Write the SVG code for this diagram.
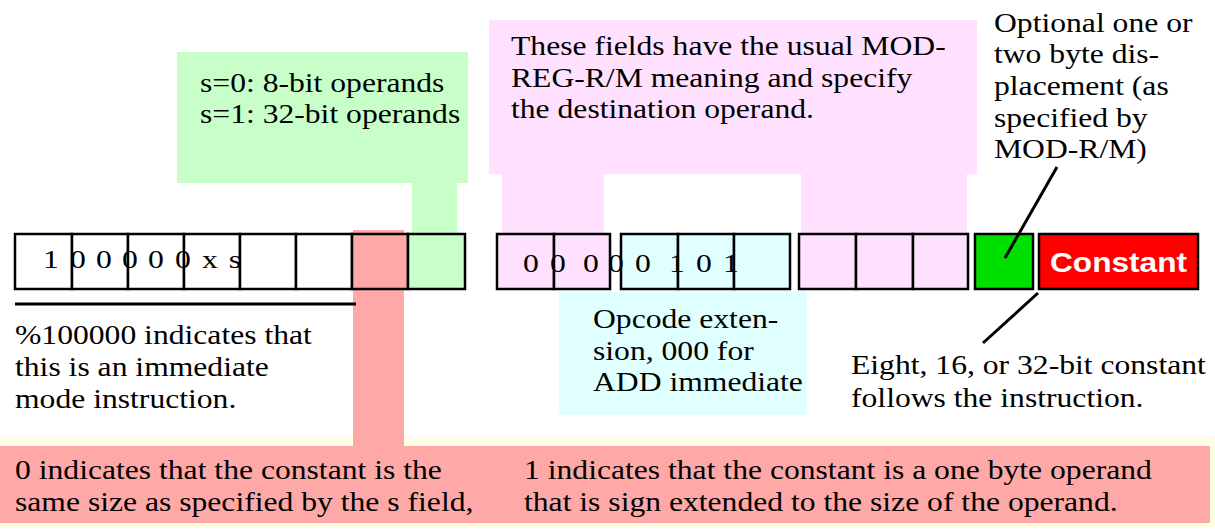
<svg xmlns="http://www.w3.org/2000/svg" width="1215" height="529" viewBox="0 0 1215 529">
<defs>
<style>
.t{font-family:"Liberation Serif","Times New Roman",serif;font-size:28px;fill:#000}
.n{font-family:"Liberation Serif","Times New Roman",serif;font-size:26px;fill:#000;text-anchor:middle}
.c{stroke:#000;stroke-width:2.5}
.w{fill:#fff}
.pk{fill:#FFE0FF}
.cy{fill:#E0FFFF}
.lg{fill:#C8FFC8}
.rd{fill:#FFA8A8}
.ln{stroke:#000;stroke-width:3;fill:none}
</style>
<clipPath id="gclip"><rect x="177" y="52" width="283" height="131"/></clipPath>
</defs>
<rect width="1215" height="529" fill="#fff"/>

<g id="note-x-bit">
<rect x="0" y="437" width="1215" height="90" fill="#FFFFE6"/>
<rect class="rd" x="0" y="446" width="1210" height="77"/>
<rect class="rd" x="353" y="230" width="51" height="218"/>
<text class="t" transform="translate(15,479) scale(1.13,1)"><tspan x="0" y="0">0 indicates that the constant is the</tspan><tspan x="0" y="32">same size as specified by the s field,</tspan></text>
<text class="t" transform="translate(524,479) scale(1.13,1)"><tspan x="0" y="0">1 indicates that the constant is a one byte operand</tspan><tspan x="0" y="32">that is sign extended to the size of the operand.</tspan></text>
</g>

<g id="note-s-bit">
<rect class="lg" x="177" y="52" width="291" height="131"/>
<rect class="lg" x="412" y="182" width="45" height="52"/>
<g clip-path="url(#gclip)">
<text class="t" transform="translate(200,92) scale(1.13,1)"><tspan x="0" y="0">s=0: 8-bit operands</tspan><tspan x="0" y="31">s=1: 32-bit operands</tspan></text>
</g>
</g>

<g id="note-modregrm">
<rect class="pk" x="489" y="20" width="488" height="154"/>
<rect class="pk" x="502" y="173" width="102" height="61"/>
<rect class="pk" x="801" y="173" width="166" height="61"/>
<text class="t" transform="translate(511,55) scale(1.13,1)"><tspan x="0" y="0">These fields have the usual MOD-</tspan><tspan x="0" y="32">REG-R/M meaning and specify</tspan><tspan x="0" y="63">the destination operand.</tspan></text>
</g>

<g id="note-opcode-ext">
<rect class="cy" x="559" y="291" width="248" height="124"/>
<text class="t" transform="translate(593,328) scale(1.13,1)"><tspan x="0" y="0">Opcode exten-</tspan><tspan x="0" y="32">sion, 000 for</tspan><tspan x="0" y="63">ADD immediate</tspan></text>
</g>

<g id="byte-opcode">
<rect class="c w" x="15" y="234" width="57" height="55"/>
<rect class="c w" x="72" y="234" width="56" height="55"/>
<rect class="c w" x="128" y="234" width="56" height="55"/>
<rect class="c w" x="184" y="234" width="56" height="55"/>
<rect class="c w" x="240" y="234" width="56" height="55"/>
<rect class="c w" x="296" y="234" width="56" height="55"/>
<rect class="c rd" x="352" y="234" width="56" height="55"/>
<rect class="c lg" x="408" y="234" width="57" height="55"/>
<text class="n" transform="scale(1.22,1)" x="41.8 63.9 85.2 106.6 127.9 150.0 172.1 192.6" y="268">100000xs</text>
</g>

<g id="byte-modrm">
<rect class="c pk" x="497" y="234" width="57" height="55"/>
<rect class="c pk" x="554" y="234" width="56" height="55"/>
<rect class="c cy" x="621" y="234" width="57" height="55"/>
<rect class="c cy" x="678" y="234" width="56" height="55"/>
<rect class="c cy" x="734" y="234" width="56" height="55"/>
<rect class="c pk" x="799" y="234" width="57" height="55"/>
<rect class="c pk" x="856" y="234" width="57" height="55"/>
<rect class="c pk" x="913" y="234" width="55" height="55"/>
<text class="n" transform="scale(1.22,1)" x="435.2 457.4 484.4 504.9 527.0 554.9 577.0 599.2" y="272">00000101</text>
</g>

<g id="displacement">
<rect class="c" fill="#00E000" x="975" y="234" width="58" height="55"/>
</g>

<g id="constant">
<rect class="c" fill="#FF0000" x="1039" y="234" width="159" height="55"/>
<text transform="translate(1050,272) scale(1.13,1)" font-family="'Liberation Sans',Arial,sans-serif" font-weight="bold" font-size="28" fill="#fff">Constant</text>
</g>

<g id="note-immediate">
<text class="t" transform="translate(15,344) scale(1.13,1)"><tspan x="0" y="0">%100000 indicates that</tspan><tspan x="0" y="32">this is an immediate</tspan><tspan x="0" y="64">mode instruction.</tspan></text>
</g>

<g id="note-displacement">
<text class="t" transform="translate(994,32) scale(1.13,1)"><tspan x="0" y="0">Optional one or</tspan><tspan x="0" y="31.5">two byte dis-</tspan><tspan x="0" y="63">placement (as</tspan><tspan x="0" y="95">specified by</tspan><tspan x="0" y="126">MOD-R/M)</tspan></text>
</g>

<g id="note-constant">
<text class="t" transform="translate(851,374) scale(1.13,1)"><tspan x="0" y="0">Eight, 16, or 32-bit constant</tspan><tspan x="0" y="33">follows the instruction.</tspan></text>
</g>

<g id="connectors">
<line class="ln" x1="15" y1="304" x2="356" y2="304"/>
<line class="ln" x1="1057" y1="167" x2="1005" y2="258"/>
<line class="ln" x1="1038" y1="293" x2="983" y2="343"/>
</g>
</svg>
